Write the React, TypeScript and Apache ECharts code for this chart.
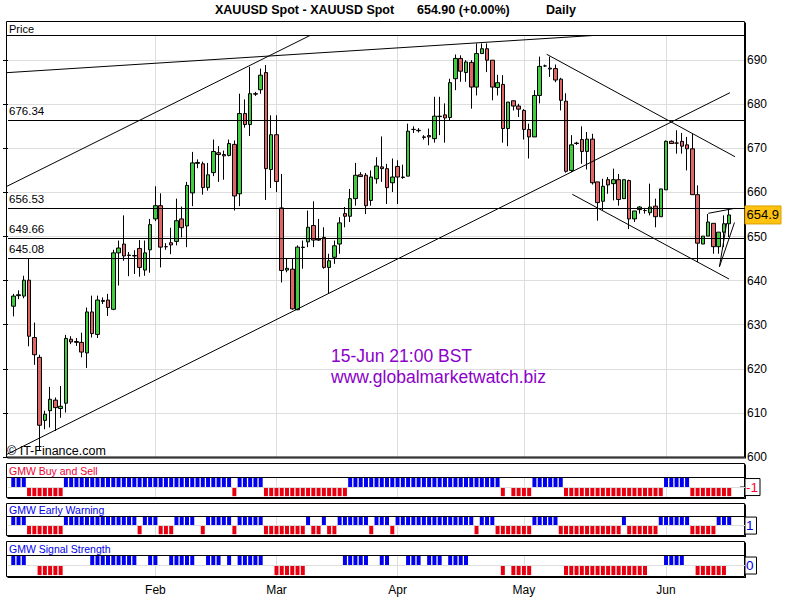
import { useEffect, useRef } from 'react';
import * as echarts from 'echarts';

const FONT = '"Liberation Sans", Arial, sans-serif';

// Daily candles, [open, close, low, high]
const candles: number[][] = [
  [634.2, 636.5, 631.9, 637.0], [636.6, 636.8, 635.8, 637.8], [636.5, 640.1, 636.0, 641.1], [640.1, 627.4, 625.1, 645.1],
  [627.1, 623.2, 620.9, 630.5], [622.6, 607.2, 601.5, 623.2], [608.3, 609.7, 606.3, 610.5], [610.5, 613.1, 606.7, 615.9],
  [612.9, 611.2, 605.9, 613.5], [611.0, 611.5, 608.9, 616.1], [612.2, 626.9, 610.1, 627.7], [626.7, 626.1, 625.6, 627.4],
  [626.2, 626.0, 625.2, 627.0], [626.0, 623.8, 622.6, 628.2], [623.6, 632.9, 620.2, 633.9], [632.9, 628.0, 627.1, 636.6],
  [627.8, 635.6, 627.0, 636.6], [635.5, 635.3, 634.7, 636.2], [635.6, 633.9, 632.0, 637.0], [633.5, 646.3, 633.3, 647.0],
  [646.3, 647.4, 638.9, 649.1], [648.3, 645.6, 644.5, 654.8], [645.8, 645.7, 641.0, 646.5], [645.7, 645.6, 641.5, 646.9],
  [647.3, 643.0, 640.9, 649.2], [642.4, 646.3, 641.1, 649.1], [647.0, 652.7, 641.8, 654.0], [654.0, 657.0, 653.5, 661.4],
  [657.0, 647.6, 643.0, 659.8], [647.7, 647.7, 647.0, 648.5], [648.6, 648.1, 646.0, 652.0], [648.9, 653.6, 648.0, 658.6],
  [654.0, 652.0, 649.8, 656.8], [652.4, 661.6, 647.6, 662.4], [659.9, 666.7, 656.9, 669.2], [666.6, 666.8, 665.5, 667.5],
  [666.5, 661.1, 659.5, 667.0], [661.1, 664.0, 660.4, 666.7], [664.5, 669.3, 663.7, 672.0], [669.0, 668.6, 662.4, 670.5],
  [668.6, 668.3, 662.9, 669.5], [668.4, 671.1, 668.2, 672.0], [670.9, 659.2, 655.9, 671.8], [659.7, 677.9, 656.9, 682.4],
  [677.9, 675.4, 674.7, 681.1], [675.4, 682.4, 672.8, 688.5], [682.4, 682.3, 681.9, 682.8], [683.3, 686.6, 682.4, 688.1],
  [687.2, 665.4, 658.3, 688.9], [665.2, 673.1, 661.0, 677.5], [673.1, 662.5, 660.1, 677.5], [656.5, 642.3, 639.6, 664.2],
  [642.4, 642.8, 641.9, 645.0], [642.6, 633.6, 633.4, 645.0], [633.4, 647.6, 633.3, 648.0], [647.6, 647.5, 642.7, 649.1],
  [648.8, 652.1, 647.6, 655.9], [652.5, 649.2, 647.6, 658.0], [649.4, 649.2, 649.0, 654.0], [649.8, 643.0, 642.7, 652.1],
  [643.0, 644.5, 637.0, 646.1], [645.3, 647.9, 643.8, 649.1], [648.3, 653.1, 646.1, 654.4], [655.2, 654.6, 652.1, 656.7],
  [654.6, 658.6, 653.3, 660.8], [658.6, 663.9, 657.0, 666.7], [664.0, 663.6, 663.5, 664.6], [663.9, 657.0, 655.1, 664.4],
  [658.2, 663.5, 657.0, 665.0], [663.1, 666.0, 662.0, 668.0], [665.8, 665.4, 662.4, 672.7], [665.4, 661.1, 657.4, 666.5],
  [662.2, 663.5, 660.1, 667.7], [665.9, 663.5, 657.4, 667.3], [663.5, 663.4, 663.1, 666.3], [663.7, 673.9, 663.7, 675.6],
  [674.3, 674.3, 673.5, 675.0], [674.1, 674.0, 673.6, 674.6], [672.6, 672.5, 672.0, 673.0], [672.9, 672.6, 670.7, 674.5],
  [672.2, 677.3, 671.3, 681.7], [677.3, 677.2, 673.0, 681.7], [677.6, 676.9, 671.3, 680.2], [677.0, 684.9, 676.4, 685.8],
  [685.8, 690.4, 683.2, 691.3], [690.4, 687.5, 685.1, 691.1], [687.2, 689.6, 685.1, 690.0], [689.5, 683.9, 679.0, 690.0],
  [683.9, 691.5, 682.0, 693.8], [691.5, 692.6, 691.5, 693.8], [692.6, 690.0, 687.3, 693.8], [690.0, 683.9, 680.9, 690.0],
  [683.8, 684.9, 682.0, 686.7], [684.5, 674.5, 671.3, 686.6], [674.5, 680.5, 670.5, 680.5], [680.8, 679.6, 678.6, 680.8],
  [679.6, 678.9, 677.1, 680.1], [678.6, 674.3, 672.0, 678.9], [674.3, 672.6, 667.7, 675.6], [672.6, 682.0, 672.6, 683.2],
  [682.0, 688.6, 680.2, 690.8], [688.7, 688.7, 688.5, 689.0], [688.2, 688.0, 686.2, 690.8], [688.1, 685.5, 685.0, 689.0],
  [685.7, 680.9, 678.6, 686.0], [680.7, 664.8, 664.5, 682.5], [665.0, 670.8, 664.6, 673.0], [671.2, 671.1, 670.8, 671.5],
  [672.0, 669.3, 666.5, 675.0], [669.3, 672.1, 665.2, 673.7], [672.1, 662.2, 661.8, 673.3], [662.4, 657.7, 653.6, 662.4],
  [658.0, 661.4, 655.9, 663.1], [662.9, 661.7, 659.7, 663.5], [662.0, 662.9, 658.2, 665.4], [662.9, 658.4, 657.0, 664.2],
  [658.6, 662.9, 658.6, 662.9], [662.7, 654.0, 651.7, 662.9], [654.0, 655.8, 653.3, 655.8], [656.1, 656.7, 655.2, 656.9],
  [655.9, 655.9, 655.2, 656.5], [655.4, 656.7, 654.8, 662.0], [656.9, 654.5, 652.1, 658.6], [654.5, 660.8, 654.5, 660.8],
  [660.6, 671.6, 660.6, 671.8], [671.6, 671.1, 671.0, 671.8], [671.2, 671.2, 668.8, 674.1], [671.6, 670.5, 668.8, 673.5],
  [670.8, 669.9, 665.0, 672.6], [669.9, 659.5, 659.5, 673.3], [659.5, 648.5, 644.2, 661.6], [648.3, 650.1, 648.3, 650.1],
  [650.1, 653.3, 650.1, 655.1], [653.0, 647.7, 646.1, 653.0], [647.7, 651.0, 646.1, 651.0], [651.0, 652.9, 647.6, 654.8],
  [652.9, 654.9, 649.9, 656.3],
];

// first candle index of each month
const monthStarts: [number, string][] = [[27, 'Feb'], [50, 'Mar'], [73, 'Apr'], [97, 'May'], [124, 'Jun']];

// horizontal price levels
const levels = [676.34, 656.53, 649.66, 645.08];

// trend lines in (day index, price)
const trendLines: number[][][] = [
  [[-1.38, 687.16], [110.13, 695.6]],
  [[-1.19, 661.4], [56.37, 695.6]],
  [[-1.25, 600.57], [136.15, 682.63]],
  [[101.33, 691.34], [137.1, 668.11]],
  [[106.19, 659.58], [135.96, 640.37]],
  [[132.03, 655.27], [137.1, 656.41]],
  [[134.15, 643.16], [137.0, 653.19]],
  [[134.15, 643.16], [135.52, 653.07]],
];

// indicator runs: [from index, to index, +1 buy / -1 sell]
const buySellRuns: number[][] = [
  [0, 2, 1], [3, 9, -1], [10, 41, 1], [42, 42, -1], [43, 47, 1], [48, 63, -1], [64, 92, 1], [93, 93, -1],
  [95, 98, -1], [99, 104, 1], [105, 123, -1], [124, 128, 1], [129, 136, -1],
];
const earlyWarningRuns: number[][] = [
  [0, 2, 1], [3, 9, -1], [10, 23, 1], [24, 24, -1], [25, 27, 1], [28, 30, -1], [31, 34, 1], [36, 36, -1],
  [37, 41, 1], [42, 42, -1], [43, 47, 1], [48, 55, -1], [56, 56, 1], [57, 58, -1], [59, 59, 1], [60, 61, -1],
  [62, 67, 1], [68, 68, -1], [69, 71, 1], [72, 72, -1], [73, 87, 1], [88, 88, -1], [89, 91, 1], [92, 98, -1],
  [99, 103, 1], [104, 115, -1], [116, 116, 1], [117, 122, -1], [123, 128, 1], [129, 133, -1], [134, 136, 1],
];
const signalStrengthRuns: number[][] = [
  [0, 2, 1], [5, 9, -1], [15, 23, 1], [26, 27, 1], [30, 34, 1], [37, 39, 1], [41, 41, 1], [43, 47, 1],
  [50, 55, -1], [63, 67, 1], [70, 71, 1], [75, 77, 1], [79, 81, 1], [83, 86, 1], [93, 93, -1], [95, 98, -1],
  [105, 120, -1], [124, 127, 1], [130, 135, -1],
];

const panels = [
  { title: 'GMW Buy and Sell', titleColor: '#ee0033', runs: buySellRuns },
  { title: 'GMW Early Warning', titleColor: '#0000ee', runs: earlyWarningRuns },
  { title: 'GMW Signal Strength', titleColor: '#0000ee', runs: signalStrengthRuns },
];

const PAD_L = 1;
const PAD_R = 3;
const NCAT = PAD_L + candles.length + PAD_R;
const cats = Array.from({ length: NCAT }, (_, c) => String(c));
const monthAt = new Map<number, string>(monthStarts.map(([i, m]) => [i + PAD_L, m]));

function pad<T>(arr: T[], empty: T): T[] {
  return [...Array(PAD_L).fill(empty), ...arr, ...Array(PAD_R).fill(empty)];
}
function expandRuns(runs: number[][]): (number | string)[] {
  const v: (number | string)[] = candles.map(() => '-');
  runs.forEach(([s, e, val]) => {
    for (let i = s; i <= e; i++) v[i] = val;
  });
  return v;
}
function lastValue(runs: number[][]): number {
  const v = expandRuns(runs);
  const x = v[v.length - 1];
  return typeof x === 'number' ? x : 0;
}

const GRID_L = 8;
const GRID_R = 55;
const grids = [
  { left: GRID_L, right: GRID_R, top: 35.5, height: 421.5 },
  { left: GRID_L, right: GRID_R, top: 477.5, height: 20 },
  { left: GRID_L, right: GRID_R, top: 516.5, height: 19 },
  { left: GRID_L, right: GRID_R, top: 555.5, height: 21 },
];

const GRIDLINE = '#dddddd';
const BLUE = '#0000ee';
const RED = '#e80010';

function catAxis(gridIndex: number, showLabels: boolean) {
  return {
    type: 'category',
    gridIndex,
    data: cats,
    boundaryGap: false,
    axisLine: { show: false },
    axisTick: { show: false },
    axisLabel: showLabels
      ? {
          show: true,
          interval: (c: number) => monthAt.has(c),
          formatter: (v: string) => monthAt.get(Number(v)) ?? '',
          color: '#000',
          fontSize: 12,
          fontFamily: FONT,
          margin: 7,
        }
      : { show: false },
    splitLine: { show: true, interval: (c: number) => monthAt.has(c), lineStyle: { color: GRIDLINE, width: 1 } },
  };
}

export default function App() {
  const ref = useRef<HTMLDivElement>(null);

  useEffect(() => {
    const chart = echarts.init(ref.current!, null, { renderer: 'svg' });
    const lastClose = candles[candles.length - 1][1];

    const option: any = {
      animation: false,
      backgroundColor: '#ffffff',
      grid: grids,
      xAxis: [
        catAxis(0, false),
        { type: 'value', gridIndex: 0, min: 0, max: NCAT - 1, show: false },
        catAxis(1, false),
        catAxis(2, false),
        catAxis(3, true),
      ],
      yAxis: [
        {
          type: 'value',
          gridIndex: 0,
          position: 'right',
          min: 600,
          max: 695.6,
          interval: 10,
          axisLine: { show: false },
          axisTick: { show: true, inside: true, length: 5, lineStyle: { color: '#000' } },
          axisLabel: {
            color: '#000',
            fontSize: 12,
            fontFamily: FONT,
            margin: 2,
            showMaxLabel: false,
            formatter: (v: number) => String(Math.round(v)),
          },
          splitLine: { show: true, lineStyle: { color: GRIDLINE, width: 1 } },
        },
        ...panels.map((_, k) => ({
          type: 'value',
          gridIndex: k + 1,
          min: -1.15,
          max: 1.05,
          show: false,
          splitLine: { show: false },
        })),
      ],
      series: [
        {
          type: 'candlestick',
          xAxisIndex: 0,
          yAxisIndex: 0,
          silent: true,
          barWidth: 4,
          data: pad(candles as any[], ['-', '-', '-', '-'] as any),
          itemStyle: {
            color: '#3fcc3f',
            color0: '#e06666',
            borderColor: '#000',
            borderColor0: '#000',
            borderColorDoji: '#000',
            borderWidth: 1,
          },
          markLine: {
            silent: true,
            symbol: ['none', 'none'],
            animation: false,
            lineStyle: { color: '#000', width: 1, type: 'solid' },
            emphasis: { disabled: true },
            label: {
              show: true,
              position: 'insideStartTop',
              formatter: (p: any) => Number(p.value).toFixed(2),
              color: '#000',
              fontSize: 11.5,
              fontFamily: FONT,
              distance: [1, 3],
            },
            data: levels.map((v) => ({ yAxis: v })),
          },
        },
        ...trendLines.map((seg) => ({
          type: 'line',
          xAxisIndex: 1,
          yAxisIndex: 0,
          silent: true,
          symbol: 'none',
          lineStyle: { color: '#000', width: 1 },
          data: seg.map(([i, p]) => [i + PAD_L, p]),
        })),
        ...panels.map((pn, k) => ({
          type: 'bar',
          xAxisIndex: k + 2,
          yAxisIndex: k + 1,
          silent: true,
          barWidth: 4,
          data: pad(expandRuns(pn.runs), '-'),
          itemStyle: { color: (p: any) => (p.value > 0 ? BLUE : RED) },
          markLine: {
            silent: true,
            symbol: ['none', 'none'],
            animation: false,
            lineStyle: { color: GRIDLINE, width: 1, type: 'solid' },
            label: { show: false },
            emphasis: { disabled: true },
            data: [{ yAxis: 0 }],
          },
        })),
      ],
    };
    chart.setOption(option);

    const L = 6.5;
    const R = 744.5;
    const rect = (x1: number, y1: number, x2: number, y2: number, style: any) => ({
      type: 'rect',
      shape: { x: x1, y: y1, width: x2 - x1, height: y2 - y1 },
      style,
      silent: true,
    });
    const line = (x1: number, y1: number, x2: number, y2: number, w = 1) => ({
      type: 'line',
      shape: { x1, y1, x2, y2 },
      style: { stroke: '#000', lineWidth: w },
      silent: true,
    });
    const text = (t: string, x: number, y: number, fill: string, size: number, extra: any = {}) => ({
      type: 'text',
      x,
      y,
      silent: true,
      style: { text: t, fill, fontSize: size, fontFamily: FONT, align: 'left', verticalAlign: 'middle', ...extra },
    });

    const boxes = [
      [21.5, 35.5, 457],
      [463.5, 477.5, 497.5],
      [503.5, 516.5, 535.5],
      [541.5, 555.5, 576.5],
    ];
    const g: any[] = [];
    boxes.forEach(([top, head, bottom]) => {
      g.push(rect(L, top, R, bottom, { fill: 'none', stroke: '#000', lineWidth: 1 }));
      g.push(line(L, head, R, head));
      g.push(line(R + 1, top + 1, R + 1, bottom + 1));
      g.push(line(L + 1, bottom + 1, R + 1.5, bottom + 1));
    });

    // header title
    g.push(text('XAUUSD Spot - XAUUSD Spot', 215, 10, '#000', 12.5, { fontWeight: 'bold' }));
    g.push(text(`${lastClose.toFixed(2)} (+0.00%)`, 417, 10, '#000', 12.5, { fontWeight: 'bold' }));
    g.push(text('Daily', 546, 10, '#000', 12.5, { fontWeight: 'bold' }));
    g.push(text('Price', 9, 29, '#000', 11));
    g.push(text('15-Jun 21:00 BST', 331, 355.5, '#8c00c8', 17.5));
    g.push(text('www.globalmarketwatch.biz', 331, 376.5, '#8c00c8', 17.5));
    g.push(text('\u00a9 IT-Finance.com', 7, 450.5, '#000', 12.5));

    // last price tag
    const yLast = chart.convertToPixel({ yAxisIndex: 0 }, lastClose) as number;
    g.push(rect(745, yLast - 9, 781, yLast + 9, { fill: '#ffc20e', stroke: '#d9a000', lineWidth: 1 }));
    g.push(text(lastClose.toFixed(1), 746.5, yLast, '#000', 13));

    // panel titles and last-value tags
    const titleY = [470.5, 510, 548.5];
    panels.forEach((pn, k) => {
      g.push(text(pn.title, 9, titleY[k], pn.titleColor, 10.5));
      const y0 = chart.convertToPixel({ yAxisIndex: k + 1 }, 0) as number;
      const lv = lastValue(pn.runs);
      const label = String(lv);
      const w = label.length > 1 ? 15 : 11.5;
      g.push(line(740, y0, 745, y0));
      g.push(rect(745, y0 - 8.5, 745 + w, y0 + 8.5, { fill: '#fff', stroke: '#000', lineWidth: 1 }));
      g.push(text(label, 746, y0, lv < 0 ? '#ff0033' : BLUE, 13.5));
    });

    chart.setOption({ graphic: { elements: g } });

    return () => chart.dispose();
  }, []);

  return <div ref={ref} style={{ position: 'absolute', left: 0, top: 0, width: 800, height: 600 }} />;
}
